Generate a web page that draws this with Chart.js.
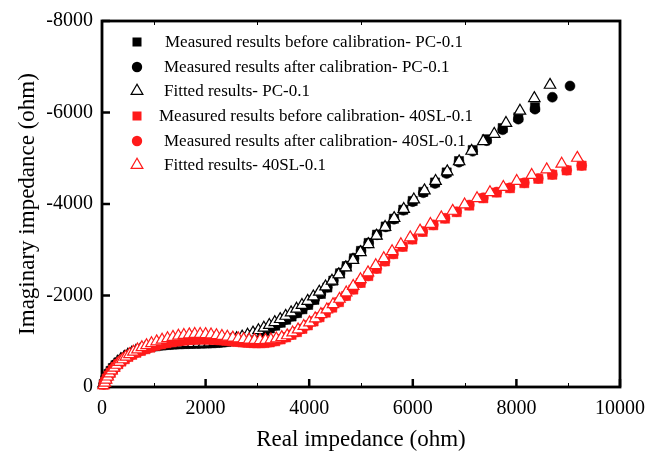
<!DOCTYPE html>
<html>
<head>
<meta charset="utf-8">
<script src="https://cdn.jsdelivr.net/npm/chart.js@4.4.1/dist/chart.umd.min.js"></script>
<style>
  html, body { margin: 0; padding: 0; background: #fff; }
  #wrap { width: 662px; height: 456px; }
</style>
</head>
<body>
<div id="wrap"><canvas id="chart" width="662" height="456"></canvas></div>
<script>
// Nyquist data, real part (ohm) and imaginary part (ohm, negative)
const pcBeforeX = [35, 60, 90, 125, 165, 210, 260, 315, 375, 440, 510, 585, 665, 750, 840, 935, 1035, 1140, 1245, 1350, 1455, 1560, 1665, 1770, 1875, 1980, 2085, 2190, 2295, 2400, 2505, 2610, 2715, 2820, 2925, 3030, 3135, 3240, 3345, 3450, 3555, 3660, 3765, 3870, 3980, 4100, 4225, 4350, 4466, 4595, 4724, 4865, 5000, 5148, 5309, 5477, 5637, 5817, 5998, 6203, 6429, 6654, 6892, 7156, 7426, 7735, 8037, 8359];
const pcBeforeY = [-65, -145, -220, -285, -350, -414, -474, -534, -592, -645, -695, -740, -781, -816, -847, -872, -892, -907, -919, -928, -935, -940, -944, -947, -950, -953, -957, -963, -972, -985, -1002, -1025, -1054, -1090, -1131, -1176, -1226, -1281, -1341, -1405, -1471, -1541, -1616, -1700, -1795, -1905, -2035, -2175, -2325, -2485, -2642, -2812, -2975, -3148, -3330, -3508, -3678, -3875, -4066, -4265, -4470, -4690, -4938, -5180, -5415, -5660, -5895, -6115];

const pcAfterX = [35, 60, 90, 125, 165, 210, 260, 315, 375, 440, 510, 585, 665, 750, 840, 935, 1035, 1140, 1245, 1350, 1455, 1560, 1665, 1770, 1875, 1980, 2085, 2190, 2295, 2400, 2505, 2610, 2715, 2820, 2925, 3030, 3135, 3240, 3345, 3450, 3555, 3660, 3765, 3870, 3980, 4100, 4225, 4350, 4466, 4595, 4724, 4865, 5000, 5148, 5309, 5477, 5637, 5817, 5998, 6203, 6429, 6654, 6892, 7156, 7426, 7735, 8037, 8359, 8694, 9035];
const pcAfterY = [-70, -150, -225, -290, -355, -420, -480, -540, -598, -650, -700, -745, -785, -820, -850, -875, -895, -910, -922, -931, -938, -943, -947, -950, -953, -956, -960, -966, -975, -988, -1005, -1028, -1058, -1094, -1135, -1180, -1230, -1285, -1345, -1410, -1475, -1545, -1620, -1705, -1800, -1910, -2040, -2180, -2330, -2490, -2645, -2815, -2975, -3145, -3326, -3500, -3667, -3862, -4051, -4246, -4449, -4667, -4913, -5152, -5384, -5623, -5855, -6073, -6334, -6580];

const pcFitX = [30, 55, 85, 118, 158, 202, 252, 306, 366, 431, 500, 575, 655, 740, 830, 925, 1025, 1130, 1235, 1340, 1445, 1550, 1655, 1760, 1865, 1970, 2075, 2180, 2285, 2390, 2495, 2600, 2705, 2810, 2915, 3020, 3125, 3230, 3335, 3440, 3545, 3650, 3755, 3860, 3970, 4080, 4195, 4315, 4440, 4570, 4705, 4845, 4990, 5140, 5300, 5465, 5640, 5825, 6020, 6225, 6440, 6665, 6895, 7135, 7360, 7572, 7799, 8069, 8346, 8649];
const pcFitY = [-75, -155, -232, -300, -368, -432, -492, -550, -605, -655, -702, -745, -785, -820, -850, -876, -896, -912, -925, -935, -943, -949, -953, -957, -960, -964, -970, -978, -990, -1008, -1032, -1062, -1098, -1140, -1187, -1238, -1293, -1352, -1415, -1482, -1553, -1628, -1707, -1790, -1880, -1975, -2080, -2195, -2320, -2460, -2612, -2775, -2945, -3120, -3305, -3495, -3690, -3890, -4095, -4295, -4500, -4710, -4930, -5160, -5370, -5530, -5768, -6036, -6312, -6602];

const slBeforeX = [35, 60, 90, 125, 165, 210, 260, 315, 375, 440, 510, 585, 665, 750, 840, 935, 1035, 1140, 1245, 1350, 1455, 1560, 1665, 1770, 1875, 1980, 2085, 2190, 2295, 2400, 2505, 2610, 2715, 2820, 2925, 3030, 3135, 3240, 3345, 3450, 3555, 3660, 3765, 3870, 3975, 4085, 4200, 4320, 4445, 4575, 4710, 4852, 4994, 5142, 5302, 5463, 5624, 5804, 5991, 6191, 6396, 6622, 6847, 7091, 7362, 7619, 7876, 8153, 8423, 8694, 8971, 9260];
const slBeforeY = [-50, -115, -185, -250, -315, -380, -440, -500, -555, -607, -657, -703, -747, -788, -826, -861, -900, -931, -957, -979, -997, -1012, -1024, -1032, -1037, -1038, -1035, -1029, -1020, -1009, -997, -985, -974, -965, -959, -957, -961, -975, -1000, -1040, -1085, -1140, -1200, -1270, -1347, -1432, -1525, -1625, -1735, -1855, -1990, -2130, -2275, -2425, -2585, -2745, -2905, -3065, -3225, -3390, -3535, -3680, -3822, -3965, -4125, -4250, -4345, -4455, -4550, -4640, -4735, -4838];

const slAfterX = [35, 60, 90, 125, 165, 210, 260, 315, 375, 440, 510, 585, 665, 750, 840, 935, 1035, 1140, 1245, 1350, 1455, 1560, 1665, 1770, 1875, 1980, 2085, 2190, 2295, 2400, 2505, 2610, 2715, 2820, 2925, 3030, 3135, 3240, 3345, 3450, 3555, 3660, 3765, 3870, 3975, 4085, 4200, 4320, 4445, 4575, 4710, 4852, 4994, 5142, 5302, 5463, 5624, 5804, 5991, 6191, 6396, 6622, 6847, 7091, 7362, 7619, 7876, 8153, 8423, 8694, 8971, 9260];
const slAfterY = [-55, -120, -190, -255, -320, -385, -445, -505, -560, -612, -662, -708, -752, -792, -830, -865, -905, -936, -962, -984, -1002, -1017, -1029, -1037, -1042, -1043, -1040, -1034, -1025, -1014, -1002, -990, -979, -970, -964, -962, -966, -980, -1005, -1045, -1090, -1145, -1205, -1275, -1352, -1437, -1530, -1630, -1740, -1860, -1995, -2135, -2280, -2430, -2590, -2750, -2910, -3070, -3232, -3398, -3544, -3689, -3833, -3978, -4138, -4261, -4355, -4464, -4558, -4645, -4739, -4841];

const slFitX = [30, 55, 80, 110, 145, 185, 230, 280, 335, 395, 460, 530, 605, 685, 770, 860, 955, 1055, 1160, 1265, 1370, 1475, 1580, 1685, 1790, 1895, 2000, 2105, 2210, 2315, 2420, 2525, 2630, 2735, 2840, 2945, 3050, 3155, 3260, 3365, 3470, 3575, 3680, 3785, 3895, 4005, 4115, 4225, 4340, 4460, 4585, 4715, 4850, 4990, 5135, 5285, 5440, 5600, 5770, 5950, 6140, 6340, 6550, 6770, 7000, 7240, 7490, 7748, 8006, 8295, 8585, 8874, 9176];
const slFitY = [-35, -90, -158, -225, -292, -357, -420, -482, -543, -602, -659, -714, -767, -818, -866, -912, -955, -995, -1032, -1065, -1093, -1117, -1135, -1148, -1155, -1157, -1153, -1144, -1130, -1113, -1095, -1077, -1060, -1045, -1033, -1025, -1022, -1026, -1038, -1058, -1088, -1127, -1190, -1255, -1330, -1410, -1497, -1590, -1692, -1805, -1925, -2062, -2205, -2352, -2503, -2658, -2812, -2965, -3118, -3268, -3415, -3560, -3705, -3848, -3988, -4125, -4255, -4370, -4500, -4631, -4754, -4877, -5007];

const seriesLabels = [
    'Measured results before calibration- PC-0.1',
    'Measured results after calibration- PC-0.1',
    'Fitted results- PC-0.1',
    'Measured results before calibration- 40SL-0.1',
    'Measured results after calibration- 40SL-0.1',
    'Fitted results- 40SL-0.1',
];

const xTicks = [0, 2000, 4000, 6000, 8000, 10000];
const xMinorTicks = [1000, 3000, 5000, 7000, 9000];
const yTicks = [0, -2000, -4000, -6000, -8000];

const SERIF = '"Liberation Serif", "Times New Roman", serif';
const RED = '#ff1a1a';

function toPoints(xs, ys) {
    return xs.map((v, i) => ({ x: v, y: ys[i] }));
}

function marker(style, color, filled) {
    const r = style === 'rect' ? 6.5 : style === 'circle' ? 5 : 6.6;
    return {
        pointStyle: style,
        pointRadius: r,
        pointBackgroundColor: filled ? color : '#fff',
        pointBorderColor: color,
        pointBorderWidth: filled ? 0.5 : 1.2,
        showLine: false,
        clip: false,
    };
}

const datasets = [
    Object.assign({ label: seriesLabels[0], data: toPoints(pcBeforeX, pcBeforeY), order: 6 }, marker('rect', '#000', true)),
    Object.assign({ label: seriesLabels[1], data: toPoints(pcAfterX, pcAfterY), order: 5 }, marker('circle', '#000', true)),
    Object.assign({ label: seriesLabels[2], data: toPoints(pcFitX, pcFitY), order: 4 }, marker('triangle', '#000', false)),
    Object.assign({ label: seriesLabels[3], data: toPoints(slBeforeX, slBeforeY), order: 3 }, marker('rect', RED, true)),
    Object.assign({ label: seriesLabels[4], data: toPoints(slAfterX, slAfterY), order: 2 }, marker('circle', RED, true)),
    Object.assign({ label: seriesLabels[5], data: toPoints(slFitX, slFitY), order: 1 }, marker('triangle', RED, false)),
];

// frame box with inward ticks, like the origin-style plot
const framePlugin = {
    id: 'frame',
    beforeDatasetsDraw(chart) {
        const { ctx, chartArea: a, scales: { x, y } } = chart;
        const seg = (x1, y1, x2, y2) => { ctx.beginPath(); ctx.moveTo(x1, y1); ctx.lineTo(x2, y2); ctx.stroke(); };
        ctx.save();
        ctx.strokeStyle = '#000';
        ctx.lineWidth = 1;
        xMinorTicks.forEach(v => {
            const px = Math.round(x.getPixelForValue(v)) + 0.5;
            seg(px, a.bottom, px, a.bottom - 4);
            seg(px, a.top, px, a.top + 4);
        });
        ctx.lineWidth = 2.5;
        xTicks.forEach(v => {
            const px = x.getPixelForValue(v);
            seg(px, a.bottom, px, a.bottom - 8);
        });
        yTicks.forEach(v => {
            const py = y.getPixelForValue(v);
            seg(a.left, py, a.left + 8, py);
        });
        ctx.lineWidth = 2.8;
        ctx.strokeRect(a.left, a.top, a.right - a.left, a.bottom - a.top);
        ctx.restore();
    }
};

// legend drawn inside the plot, top-left
const legendRows = [42, 67, 91, 116, 141, 165];
const legendTextX = [165, 164, 164, 159, 164, 164];

const legendPlugin = {
    id: 'insideLegend',
    afterDatasetsDraw(chart) {
        const ctx = chart.ctx;
        const mx = 137;
        ctx.save();
        chart.data.datasets.forEach((ds, i) => {
            const cy = legendRows[i];
            ctx.fillStyle = ds.pointBackgroundColor;
            ctx.strokeStyle = ds.pointBorderColor;
            if (ds.pointStyle === 'rect') {
                ctx.fillStyle = ds.pointBorderColor;
                ctx.fillRect(mx - 4.5, cy - 4.5, 9, 9);
            } else if (ds.pointStyle === 'circle') {
                ctx.fillStyle = ds.pointBorderColor;
                ctx.beginPath();
                ctx.arc(mx, cy, 5.2, 0, Math.PI * 2);
                ctx.fill();
            } else {
                const r = 6.8;
                ctx.lineWidth = 1.2;
                ctx.beginPath();
                ctx.moveTo(mx, cy - r);
                ctx.lineTo(mx - r * 0.866, cy + r / 2);
                ctx.lineTo(mx + r * 0.866, cy + r / 2);
                ctx.closePath();
                ctx.fill();
                ctx.stroke();
            }
            ctx.fillStyle = '#000';
            ctx.font = '17px ' + SERIF;
            ctx.textBaseline = 'middle';
            ctx.textAlign = 'left';
            ctx.fillText(seriesLabels[i], legendTextX[i], cy + 1);
        });
        ctx.restore();
    }
};

new Chart(document.getElementById('chart'), {
    type: 'scatter',
    data: { datasets: datasets },
    options: {
        responsive: false,
        animation: false,
        events: [],
        layout: { padding: { top: 19, right: 42, left: 0, bottom: 0 } },
        plugins: {
            legend: { display: false },
            tooltip: { enabled: false },
        },
        scales: {
            x: {
                type: 'linear',
                min: 0,
                max: 10000,
                afterFit: s => { s.height = 69; },
                afterBuildTicks: s => { s.ticks = xTicks.map(v => ({ value: v })); },
                grid: { display: false, drawTicks: false },
                border: { display: false },
                ticks: {
                    callback: v => String(v),
                    color: '#000',
                    font: { family: SERIF, size: 20 },
                    padding: 10,
                    maxRotation: 0,
                },
                title: {
                    display: true,
                    text: 'Real impedance (ohm)',
                    color: '#000',
                    font: { family: SERIF, size: 23 },
                    padding: { top: 0, bottom: 2 },
                },
            },
            y: {
                type: 'linear',
                min: -8000,
                max: 0,
                reverse: true,
                afterFit: s => { s.width = 102; },
                afterBuildTicks: s => { s.ticks = yTicks.map(v => ({ value: v })); },
                grid: { display: false, drawTicks: false },
                border: { display: false },
                ticks: {
                    callback: v => String(v),
                    color: '#000',
                    font: { family: SERIF, size: 20 },
                    padding: 9,
                },
                title: {
                    display: true,
                    text: 'Imaginary impedance (ohm)',
                    color: '#000',
                    font: { family: SERIF, size: 23 },
                    padding: { top: 14, bottom: 0 },
                },
            },
        },
    },
    plugins: [framePlugin, legendPlugin],
});
</script>
</body>
</html>
